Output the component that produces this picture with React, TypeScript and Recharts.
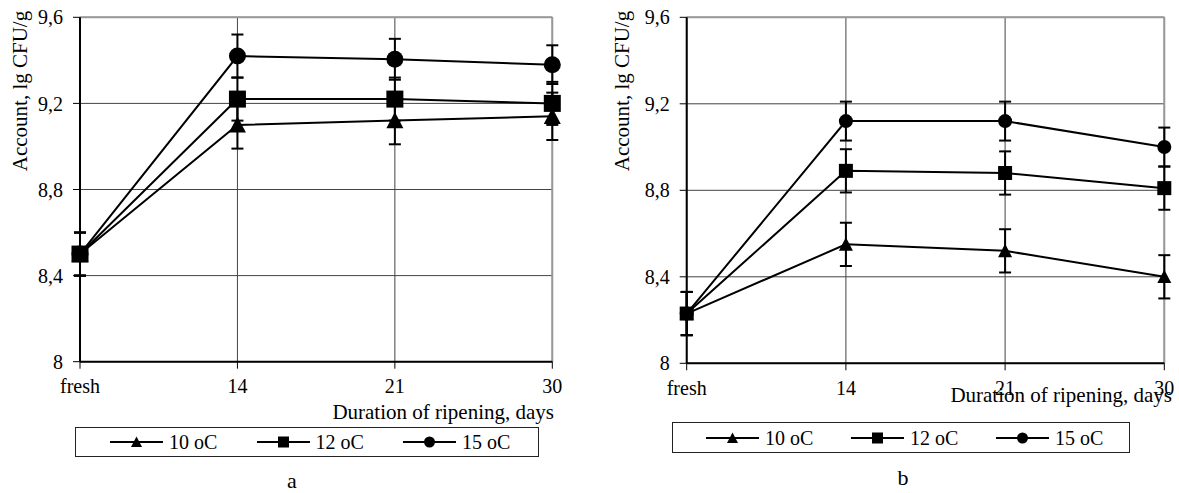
import React from "react";
import {
  LineChart,
  Line,
  XAxis,
  YAxis,
  CartesianGrid,
  ErrorBar,
  ReferenceLine,
} from "recharts";

// days of ripening
const categories = ["fresh", "14", "21", "30"];
const seriesNames = ["10 oC", "12 oC", "15 oC"];
const seriesShapes = ["triangle", "square", "circle"];
const yTicks = [8, 8.4, 8.8, 9.2, 9.6];

// panel a
const a10 = [8.5, 9.1, 9.12, 9.14];
const a12 = [8.5, 9.22, 9.22, 9.2];
const a15 = [8.5, 9.42, 9.405, 9.38];
const errA10 = [0.1, 0.11, 0.11, 0.11];
const errA12 = [0.1, 0.1, 0.1, 0.1];
const errA15 = [0.1, 0.1, 0.095, 0.09];

// panel b
const b10 = [8.23, 8.55, 8.52, 8.4];
const b12 = [8.23, 8.89, 8.88, 8.81];
const b15 = [8.23, 9.12, 9.12, 9.0];
const errB10 = [0.1, 0.1, 0.1, 0.1];
const errB12 = [0.1, 0.1, 0.1, 0.1];
const errB15 = [0.1, 0.09, 0.09, 0.09];

const FONT = "'Liberation Serif', 'Times New Roman', serif";

function buildRows(values: number[][], errors: number[][]) {
  return categories.map((day, i) => {
    const row: any = { day };
    values.forEach((v, s) => {
      row[`s${s}`] = v[i];
      row[`e${s}`] = errors[s][i];
    });
    return row;
  });
}

const rowsA = buildRows([a10, a12, a15], [errA10, errA12, errA15]);
const rowsB = buildRows([b10, b12, b15], [errB10, errB12, errB15]);

function Marker({ cx, cy, shape, size }: any) {
  if (cx == null || cy == null) return null;
  const h = size / 2;
  if (shape === "circle") return <circle cx={cx} cy={cy} r={h} fill="#000" />;
  if (shape === "square")
    return <rect x={cx - h} y={cy - h} width={size} height={size} fill="#000" />;
  return (
    <polygon
      points={`${cx},${cy - h} ${cx - h},${cy + h * 0.9} ${cx + h},${cy + h * 0.9}`}
      fill="#000"
    />
  );
}

const fmt = (v: number) => String(v).replace(".", ",");

interface PanelProps {
  rows: any[];
  left: number;
  width: number;
  margin: { top: number; right: number; bottom: number; left: number };
  yAxisWidth: number;
  markerSize: number;
  yTitleX: number;
  xTitleRight: number;
  xTitleY: number;
}

function Panel({ rows, left, width, margin, yAxisWidth, markerSize, yTitleX, xTitleRight, xTitleY }: PanelProps) {
  return (
    <div style={{ position: "absolute", left, top: 0 }}>
      <LineChart width={width} height={430} data={rows} margin={margin}>
        <CartesianGrid stroke="#444" strokeWidth={1} />
        <ReferenceLine y={9.6} stroke="#999" strokeWidth={2} />
        <ReferenceLine x="30" stroke="#999" strokeWidth={2} />
        <XAxis
          dataKey="day"
          height={30}
          interval={0}
          padding={{ left: 0, right: 0 }}
          axisLine={{ stroke: "#000", strokeWidth: 2 }}
          tickLine={{ stroke: "#000", strokeWidth: 1 }}
          tickSize={7}
          tickMargin={10}
          tick={{ fontSize: 20, fill: "#000", fontFamily: FONT }}
          label={{
            content: () => (
              <text
                x={xTitleRight}
                y={xTitleY}
                dy="0.35em"
                textAnchor="end"
                fontSize={21}
                fontFamily={FONT}
                fill="#000"
              >
                Duration of ripening, days
              </text>
            ),
          }}
        />
        <YAxis
          width={yAxisWidth}
          domain={[8, 9.6]}
          ticks={yTicks}
          allowDataOverflow
          tickFormatter={fmt}
          axisLine={{ stroke: "#000", strokeWidth: 2 }}
          tickLine={{ stroke: "#000", strokeWidth: 1 }}
          tickSize={7}
          tickMargin={10}
          tick={{ fontSize: 20, fill: "#000", fontFamily: FONT }}
          label={{
            content: () => (
              <text
                x={yTitleX}
                y={91}
                dy="0.35em"
                textAnchor="middle"
                transform={`rotate(-90, ${yTitleX}, 91)`}
                fontSize={21}
                fontFamily={FONT}
                fill="#000"
              >
                Account, lg CFU/g
              </text>
            ),
          }}
        />
        {seriesNames.map((name, s) => (
          <Line
            key={name}
            name={name}
            dataKey={`s${s}`}
            stroke="#000"
            strokeWidth={2}
            isAnimationActive={false}
            dot={(p: any) => (
              <Marker key={`${s}-${p.index}`} cx={p.cx} cy={p.cy} shape={seriesShapes[s]} size={markerSize} />
            )}
            activeDot={false}
          >
            <ErrorBar
              dataKey={`e${s}`}
              direction="y"
              width={6}
              stroke="#000"
              strokeWidth={2}
              isAnimationActive={false}
            />
          </Line>
        ))}
      </LineChart>
    </div>
  );
}

function LegendBox({ left, top, width, height, startX, step }: any) {
  return (
    <div
      style={{
        position: "absolute",
        left,
        top,
        width,
        height,
        border: "1px solid #222",
        boxSizing: "border-box",
        background: "#fff",
      }}
    >
      {seriesNames.map((name, s) => (
        <div
          key={name}
          style={{
            position: "absolute",
            left: startX + s * step,
            top: 0,
            height: height - 2,
            display: "flex",
            alignItems: "center",
            gap: 6,
            whiteSpace: "nowrap",
          }}
        >
          <svg width={53} height={14}>
            <line x1={0} y1={7} x2={53} y2={7} stroke="#000" strokeWidth={2} />
            <Marker cx={26.5} cy={7} shape={seriesShapes[s]} size={11} />
          </svg>
          <span style={{ fontSize: 20, fontFamily: FONT, color: "#000", lineHeight: "20px" }}>{name}</span>
        </div>
      ))}
    </div>
  );
}

export default function App() {
  return (
    <div
      style={{
        position: "absolute",
        left: 0,
        top: 0,
        width: 1179,
        height: 493,
        background: "#fff",
        overflow: "hidden",
        fontFamily: FONT,
      }}
    >
      <Panel
        rows={rowsA}
        left={0}
        width={575}
        margin={{ top: 17.3, right: 22.7, bottom: 38.3, left: 8 }}
        yAxisWidth={72}
        markerSize={17}
        yTitleX={20}
        xTitleRight={554}
        xTitleY={411.7}
      />
      <Panel
        rows={rowsB}
        left={600}
        width={579}
        margin={{ top: 17.3, right: 14.7, bottom: 36.7, left: 8 }}
        yAxisWidth={78.7}
        markerSize={14}
        yTitleX={22}
        xTitleRight={572}
        xTitleY={395}
      />
      <LegendBox left={75} top={427} width={464} height={30} startX={34} step={146.5} />
      <LegendBox left={672} top={422} width={458} height={31} startX={33} step={145} />
      <div style={{ position: "absolute", left: 282, top: 469, width: 20, textAlign: "center", fontSize: 22, lineHeight: "24px" }}>a</div>
      <div style={{ position: "absolute", left: 893, top: 466, width: 20, textAlign: "center", fontSize: 22, lineHeight: "24px" }}>b</div>
    </div>
  );
}
